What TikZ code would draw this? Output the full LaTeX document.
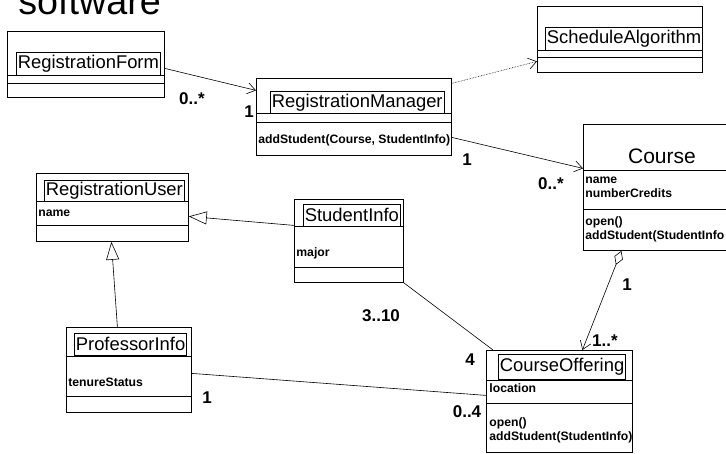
\documentclass[tikz,border=0pt]{standalone}
\usepackage{fontspec}
\setmainfont{Liberation Sans}
\usetikzlibrary{arrows.meta}
\newcommand{\clsfont}{\fontsize{18.4}{20}\selectfont}
\newcommand{\bigclsfont}{\fontsize{21}{23}\selectfont}
\newcommand{\membfont}{\bfseries\fontsize{12.2}{13}\selectfont}
\newcommand{\multfont}{\bfseries\fontsize{17}{18}\selectfont}
\tikzset{classbox/.style = {draw, line width=0.8pt, anchor=north west, inner sep=0pt}}
\tikzset{namebox/.style = {draw, line width=0.7pt, anchor=north west, inner xsep=1.5pt, inner ysep=0pt, font=\clsfont}}
\tikzset{member/.style = {anchor=base west, inner sep=0pt, font=\membfont}}
\tikzset{mult/.style = {inner sep=0pt, font=\multfont}}
\tikzset{navig/.style = {line width=0.6pt, -{Straight Barb[length=8pt,width=11pt]}}}
\tikzset{inherit/.style = {line width=0.6pt, -{Triangle[open,length=18pt,width=13pt]}}}
\tikzset{aggreg/.style = {line width=0.6pt, {Diamond[open,length=15pt,width=9pt]}-{Straight Barb[length=8pt,width=11pt]}}}

\begin{document}
\begin{tikzpicture}[x=1pt, y=-1pt, line width=0.8pt]
  \useasboundingbox (0,0) rectangle (726,453);
  \clip (0,0) rectangle (726,453);
  \node[anchor=base west, inner sep=0pt, font=\fontsize{37.7}{40}\selectfont] (title) at (18,14) {software};

  \node[classbox, minimum width=157pt, minimum height=66pt] (rf) at (7,31) {};
  \node[namebox, minimum height=23pt] (rfn) at (16,52) {RegistrationForm};
  \draw (rf.west |- 0,75) -- (rf.east |- 0,75);
  \draw (rf.west |- 0,83) -- (rf.east |- 0,83);

  \node[classbox, minimum width=195pt, minimum height=77pt] (rm) at (256,78) {};
  \node[namebox, minimum height=22pt] (rmn) at (270,91) {RegistrationManager};
  \draw (rm.west |- 0,113) -- (rm.east |- 0,113);
  \draw (rm.west |- 0,122) -- (rm.east |- 0,122);
  \node[member] (rmop) at (258,143) {addStudent(Course, StudentInfo)};

  \node[classbox, minimum width=165pt, minimum height=66pt] (sa) at (537,6) {};
  \node[namebox, minimum height=23pt] (san) at (545,27) {ScheduleAlgorithm};
  \draw (sa.west |- 0,50) -- (sa.east |- 0,50);
  \draw (sa.west |- 0,57) -- (sa.east |- 0,57);

  \node[classbox, minimum width=147pt, minimum height=126pt] (crs) at (583,124) {};
  \node[anchor=base, inner sep=0pt, font=\bigclsfont] (crsn) at (662,163) {Course};
  \draw (crs.west |- 0,170) -- (crs.east |- 0,170);
  \node[member] (crsa1) at (585,183) {name};
  \node[member] (crsa2) at (585,197) {numberCredits};
  \draw (crs.west |- 0,209) -- (crs.east |- 0,209);
  \node[member] (crso1) at (585,225) {open()};
  \node[member] (crso2) at (585,239) {addStudent(StudentInfo};

  \node[classbox, minimum width=152pt, minimum height=68pt] (ru) at (36,173) {};
  \node[namebox, minimum height=21pt] (run) at (44,180) {RegistrationUser};
  \draw (ru.west |- 0,201) -- (ru.east |- 0,201);
  \node[member] (rua1) at (38,216) {name};
  \draw (ru.west |- 0,225) -- (ru.east |- 0,225);

  \node[classbox, minimum width=109pt, minimum height=83pt] (si) at (294,199) {};
  \node[namebox, minimum height=22pt] (sin) at (303,204) {StudentInfo};
  \draw (si.west |- 0,226) -- (si.east |- 0,226);
  \node[member] (sia1) at (296,256) {major};
  \draw (si.west |- 0,267) -- (si.east |- 0,267);

  \node[classbox, minimum width=125pt, minimum height=85pt] (pi) at (66,327) {};
  \node[namebox, minimum height=22pt] (pin) at (74,333) {ProfessorInfo};
  \draw (pi.west |- 0,356) -- (pi.east |- 0,356);
  \node[member] (pia1) at (68,386) {tenureStatus};
  \draw (pi.west |- 0,396) -- (pi.east |- 0,396);

  \node[classbox, minimum width=146pt, minimum height=102pt] (co) at (486,350) {};
  \node[namebox, minimum height=25pt] (con) at (498,354) {CourseOffering};
  \draw (co.west |- 0,380) -- (co.east |- 0,380);
  \node[member] (coa1) at (489,392) {location};
  \draw (co.west |- 0,403) -- (co.east |- 0,403);
  \node[member] (coo1) at (489,426) {open()};
  \node[member] (coo2) at (489,440) {addStudent(StudentInfo)};

  \path[navig] ([yshift=-4pt]rf.east) edge ([yshift=26.5pt]rm.west);
  \path[navig, densely dotted] ([yshift=33.5pt]rm.east) edge ([yshift=-22pt]sa.west);
  \path[navig] ([yshift=-20.5pt]rm.east) edge ([yshift=19pt]crs.west);
  \path[inherit] ([yshift=15.5pt]si.west) edge ([yshift=-9pt]ru.east);
  \path[inherit] ([xshift=-11.5pt]pi.north) edge ([xshift=-1pt]ru.south);
  \path[line width=0.6pt] (si.south east) edge ([xshift=7pt]co.north west);
  \path[line width=0.6pt] ([yshift=-3.5pt]pi.east) edge ([yshift=6pt]co.west);
  \path[aggreg] ([xshift=-35.5pt]crs.south) edge ([xshift=23pt]co.north);

  \node[mult] (m1) at (192,99) {0..*};
  \node[mult] (m2) at (249,112) {1};
  \node[mult] (m3) at (467,160) {1};
  \node[mult] (m4) at (551,184) {0..*};
  \node[mult] (m5) at (627,285) {1};
  \node[mult] (m6) at (605,341) {1..*};
  \node[mult] (m7) at (381,316) {3..10};
  \node[mult] (m8) at (470,360) {4};
  \node[mult] (m9) at (467,412) {0..4};
  \node[mult] (m10) at (207,398) {1};
\end{tikzpicture}
\end{document}
